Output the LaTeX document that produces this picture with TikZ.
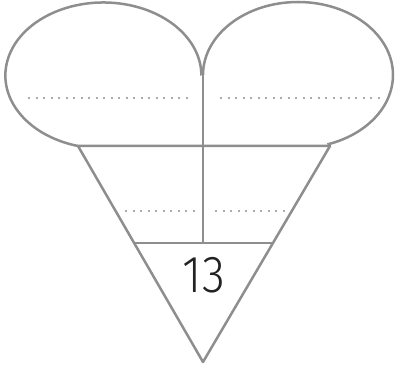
\documentclass[tikz,border=0pt]{standalone}
\usepackage{fontspec}
\newfontfamily\numfont{Fira Sans Light}
\usetikzlibrary{calc}

\definecolor{linegray}{HTML}{8E8E8E}
\definecolor{dotgray}{HTML}{ABABAB}
\definecolor{numgray}{HTML}{222222}

\begin{document}
\begin{tikzpicture}[x=1pt, y=1pt, line join=round,
		outline/.style={draw=linegray, line width=2.5pt},
		dotline/.style={draw=dotgray, line width=1.9pt, dash pattern=on 2.2pt off 5.3pt}]
		
		\useasboundingbox (0,0) rectangle (395,372);
		
		% --- corner points ---
		\coordinate (lt) at (78,226);
		\coordinate (rt) at (330,226);
		\coordinate (apex) at (203,10);
		\coordinate (top) at (203,297);
		\coordinate (mid) at (203,129);
		
		% --- left lobe ---
		\draw[outline] (lt) arc[start angle=255, end angle=0, x radius=98, y radius=73];
		
		% --- right lobe ---
		\draw[outline] (top) arc[start angle=180, end angle=-72, x radius=95, y radius=73];
		
		% --- cone ---
		\draw[outline] (lt) -- (rt) -- (apex) -- cycle;
		\draw[outline] ($(lt)!0.449!(apex)$) -- ($(rt)!0.449!(apex)$);
		\draw[outline] (top) -- (mid);
		
		% --- writing lines ---
		\draw[dotline] (28,274) -- (192,274);
		\draw[dotline] (220,274) -- (383,274);
		\draw[dotline] (125,161) -- (195,161);
		\draw[dotline] (215,161) -- (285,161);
		
		\node[text=numgray, font=\numfont\fontsize{52}{52}\selectfont, xscale=0.9] (num) at (204,97) {13};
		
	\end{tikzpicture}
\end{document}
